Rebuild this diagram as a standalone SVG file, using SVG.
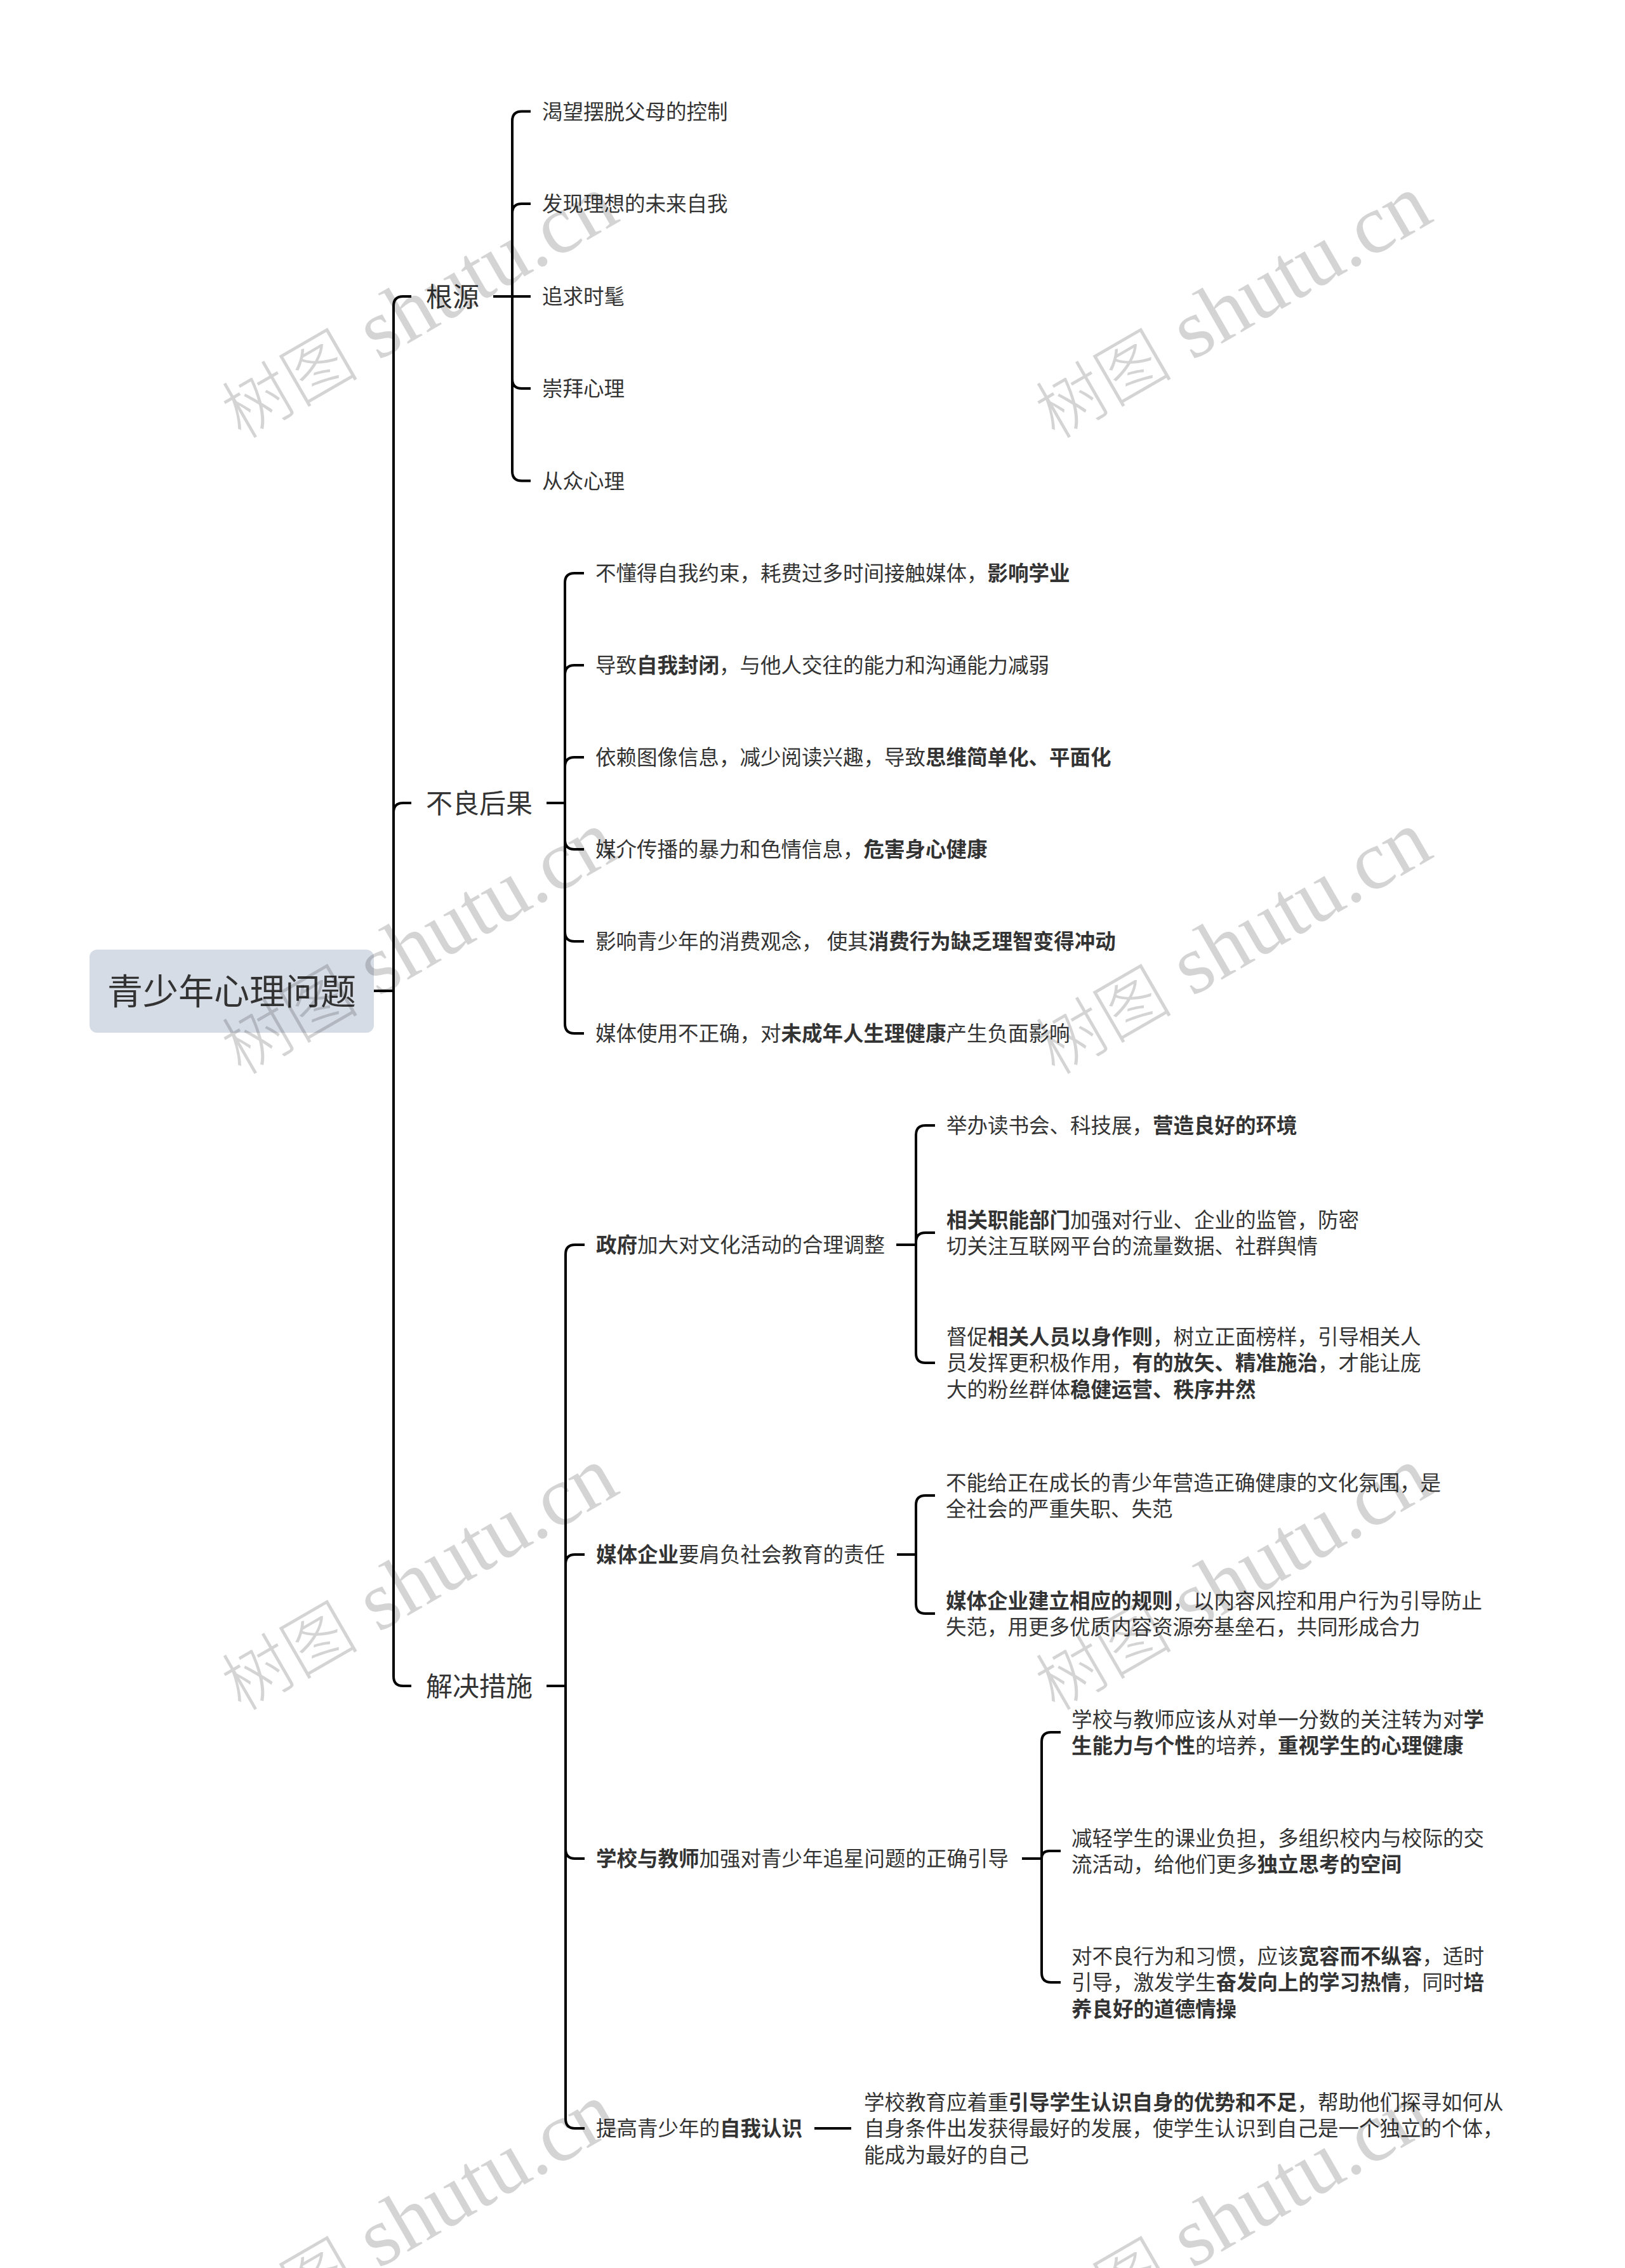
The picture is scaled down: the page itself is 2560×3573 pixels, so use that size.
<svg xmlns="http://www.w3.org/2000/svg" width="2560" height="3573" viewBox="0 0 2560 3573">
<style>
.t{font-family:"Noto Sans CJK SC","Noto Sans",sans-serif;font-size:32.5px;fill:#333}
.l1{font-family:"Noto Sans CJK SC","Noto Sans",sans-serif;font-size:42px;fill:#333}
.rt{font-family:"Noto Sans CJK SC","Noto Sans",sans-serif;font-size:56px;fill:#333}
.b{font-weight:bold}
.c{fill:none;stroke:#000;stroke-width:4;stroke-linecap:butt}
.wm{font-family:"Liberation Serif","Noto Sans CJK SC",serif;font-size:132px;fill:#000;fill-opacity:0.17}
.wc{font-family:"Noto Sans CJK SC",serif;font-size:108px;font-weight:300}
</style>
<rect width="2560" height="3573" fill="#fff"/>
<g id="connectors" class="c">
<path d="M589 1561H620"/>
<path d="M620 1561V482Q620 467 635 467H648"/>
<path d="M620 1561V1280Q620 1265 635 1265H648"/>
<path d="M620 1561V2641Q620 2656 635 2656H648"/>
<path d="M777 467H836"/>
<path d="M807 467V190.5Q807 175.5 822 175.5H836"/>
<path d="M807 467V336Q807 321 822 321H836"/>
<path d="M807 467V597Q807 612 822 612H836"/>
<path d="M807 467V742.5Q807 757.5 822 757.5H836"/>
<path d="M861 1265H890"/>
<path d="M890 1265V918Q890 903 905 903H920"/>
<path d="M890 1265V1063Q890 1048 905 1048H920"/>
<path d="M890 1265V1208Q890 1193 905 1193H920"/>
<path d="M890 1265V1323Q890 1338 905 1338H920"/>
<path d="M890 1265V1468Q890 1483 905 1483H920"/>
<path d="M890 1265V1613Q890 1628 905 1628H920"/>
<path d="M861 2656H891"/>
<path d="M891 2656V1976Q891 1961 906 1961H921"/>
<path d="M891 2656V2464Q891 2449 906 2449H921"/>
<path d="M891 2656V2913Q891 2928 906 2928H921"/>
<path d="M891 2656V3338Q891 3353 906 3353H921"/>
<path d="M1412 1961H1443"/>
<path d="M1443 1961V1788Q1443 1773 1458 1773H1473"/>
<path d="M1443 1961V1957Q1443 1942 1458 1942H1473"/>
<path d="M1443 1961V2132Q1443 2147 1458 2147H1473"/>
<path d="M1413 2449H1443"/>
<path d="M1443 2449V2371Q1443 2356 1458 2356H1473"/>
<path d="M1443 2449V2527Q1443 2542 1458 2542H1473"/>
<path d="M1610 2928H1641"/>
<path d="M1641 2928V2744Q1641 2729 1656 2729H1671"/>
<path d="M1641 2928Q1641 2916 1653 2916H1671"/>
<path d="M1641 2928V3108Q1641 3123 1656 3123H1671"/>
<path d="M1283 3353H1341"/>
</g>
<g id="root">
<rect x="141" y="1496" width="448" height="131" rx="12" fill="#d6dce6"/>
<text class="rt" x="365" y="1582" text-anchor="middle">青少年心理问题</text>
</g>
<g id="n-genyuan"><text class="l1" x="671" y="483">根源</text></g>
<g id="n-genyuan-1"><text class="t" x="854" y="188">渴望摆脱父母的控制</text></g>
<g id="n-genyuan-2"><text class="t" x="854" y="333">发现理想的未来自我</text></g>
<g id="n-genyuan-3"><text class="t" x="854" y="479">追求时髦</text></g>
<g id="n-genyuan-4"><text class="t" x="854" y="624">崇拜心理</text></g>
<g id="n-genyuan-5"><text class="t" x="854" y="770">从众心理</text></g>
<g id="n-buliang"><text class="l1" x="671" y="1281">不良后果</text></g>
<g id="n-buliang-1"><text class="t" x="938" y="915">不懂得自我约束，耗费过多时间接触媒体，<tspan class="b">影响学业</tspan></text></g>
<g id="n-buliang-2"><text class="t" x="938" y="1060">导致<tspan class="b">自我封闭</tspan>，与他人交往的能力和沟通能力减弱</text></g>
<g id="n-buliang-3"><text class="t" x="938" y="1205">依赖图像信息，减少阅读兴趣，导致<tspan class="b">思维简单化、平面化</tspan></text></g>
<g id="n-buliang-4"><text class="t" x="938" y="1350">媒介传播的暴力和色情信息，<tspan class="b">危害身心健康</tspan></text></g>
<g id="n-buliang-5"><text class="t" x="938" y="1495" xml:space="preserve">影响青少年的消费观念， 使其<tspan class="b">消费行为缺乏理智变得冲动</tspan></text></g>
<g id="n-buliang-6"><text class="t" x="938" y="1640">媒体使用不正确，对<tspan class="b">未成年人生理健康</tspan>产生负面影响</text></g>
<g id="n-jiejue"><text class="l1" x="671" y="2672">解决措施</text></g>
<g id="n-zhengfu"><text class="t" x="939" y="1973"><tspan class="b">政府</tspan>加大对文化活动的合理调整</text></g>
<g id="n-zhengfu-1"><text class="t" x="1491" y="1785">举办读书会、科技展，<tspan class="b">营造良好的环境</tspan></text></g>
<g id="n-zhengfu-2"><text class="t" x="1491" y="1933.5"><tspan class="b">相关职能部门</tspan>加强对行业、企业的监管，防密</text><text class="t" x="1491" y="1975">切关注互联网平台的流量数据、社群舆情</text></g>
<g id="n-zhengfu-3"><text class="t" x="1491" y="2117.5">督促<tspan class="b">相关人员以身作则</tspan>，树立正面榜样，引导相关人</text><text class="t" x="1491" y="2159">员发挥更积极作用，<tspan class="b">有的放矢、精准施治</tspan>，才能让庞</text><text class="t" x="1491" y="2200.5">大的粉丝群体<tspan class="b">稳健运营、秩序井然</tspan></text></g>
<g id="n-meiti"><text class="t" x="939" y="2461"><tspan class="b">媒体企业</tspan>要肩负社会教育的责任</text></g>
<g id="n-meiti-1"><text class="t" x="1490" y="2347.5">不能给正在成长的青少年营造正确健康的文化氛围，是</text><text class="t" x="1490" y="2389">全社会的严重失职、失范</text></g>
<g id="n-meiti-2"><text class="t" x="1490" y="2533.5"><tspan class="b">媒体企业建立相应的规则</tspan>，以内容风控和用户行为引导防止</text><text class="t" x="1490" y="2575">失范，用更多优质内容资源夯基垒石，共同形成合力</text></g>
<g id="n-xuexiao"><text class="t" x="939" y="2940"><tspan class="b">学校与教师</tspan>加强对青少年追星问题的正确引导</text></g>
<g id="n-xuexiao-1"><text class="t" x="1688" y="2720.5">学校与教师应该从对单一分数的关注转为对<tspan class="b">学</tspan></text><text class="t" x="1688" y="2762"><tspan class="b">生能力与个性</tspan>的培养，<tspan class="b">重视学生的心理健康</tspan></text></g>
<g id="n-xuexiao-2"><text class="t" x="1688" y="2907.5">减轻学生的课业负担，多组织校内与校际的交</text><text class="t" x="1688" y="2949">流活动，给他们更多<tspan class="b">独立思考的空间</tspan></text></g>
<g id="n-xuexiao-3"><text class="t" x="1688" y="3093.5">对不良行为和习惯，应该<tspan class="b">宽容而不纵容</tspan>，适时</text><text class="t" x="1688" y="3135">引导，激发学生<tspan class="b">奋发向上的学习热情</tspan>，同时<tspan class="b">培</tspan></text><text class="t" x="1688" y="3176.5"><tspan class="b">养良好的道德情操</tspan></text></g>
<g id="n-ziwo"><text class="t" x="939" y="3365">提高青少年的<tspan class="b">自我认识</tspan></text></g>
<g id="n-ziwo-1"><text class="t" x="1361" y="3323.5">学校教育应着重<tspan class="b">引导学生认识自身的优势和不足</tspan>，帮助他们探寻如何从</text><text class="t" x="1361" y="3365">自身条件出发获得最好的发展，使学生认识到自己是一个独立的个体，</text><text class="t" x="1361" y="3406.5">能成为最好的自己</text></g>
<g id="watermarks" class="wm">
<text transform="translate(380 693) rotate(-30)"><tspan class="wc">树图</tspan> shutu.cn</text>
<text transform="translate(1662 693) rotate(-30)"><tspan class="wc">树图</tspan> shutu.cn</text>
<text transform="translate(380 1695) rotate(-30)"><tspan class="wc">树图</tspan> shutu.cn</text>
<text transform="translate(1662 1695) rotate(-30)"><tspan class="wc">树图</tspan> shutu.cn</text>
<text transform="translate(380 2697) rotate(-30)"><tspan class="wc">树图</tspan> shutu.cn</text>
<text transform="translate(1662 2697) rotate(-30)"><tspan class="wc">树图</tspan> shutu.cn</text>
<text transform="translate(380 3699) rotate(-30)"><tspan class="wc">树图</tspan> shutu.cn</text>
<text transform="translate(1662 3699) rotate(-30)"><tspan class="wc">树图</tspan> shutu.cn</text>
</g>
</svg>
